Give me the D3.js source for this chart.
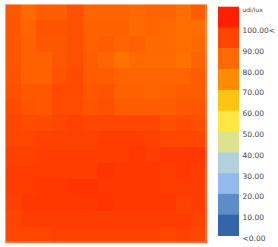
<!DOCTYPE html>
<html><head><meta charset="utf-8">
<script src="https://cdn.jsdelivr.net/npm/d3@7"></script>
<style>html,body{margin:0;padding:0;background:#fff;}svg{display:block;}</style>
</head><body>
<svg id="chart" width="278" height="247"></svg>
<script>
const columns = d3.range(13);
const rows = d3.range(15);
const gridValues = [
  [93.5,90.5,92.8,92.8,95.0,91.3,91.3,91.3,90.5,91.3,91.3,89.8,92.8],
  [93.5,91.3,94.3,94.3,95.0,92.0,92.0,92.0,90.5,91.3,90.5,89.8,89.8],
  [93.5,92.0,93.5,93.5,95.0,92.0,92.8,91.3,92.0,90.5,90.5,89.8,90.5],
  [93.5,92.0,92.0,93.5,95.0,92.8,91.3,89.0,90.5,90.5,90.5,89.0,91.3],
  [94.3,92.0,92.0,94.3,95.8,92.8,92.8,91.3,91.3,91.3,91.3,91.3,92.8],
  [95.0,93.5,93.5,95.8,95.8,93.5,94.3,92.0,92.0,91.3,92.0,92.8,92.8],
  [95.8,94.3,93.5,95.8,95.8,94.3,95.0,92.8,92.8,92.8,92.8,93.5,93.5],
  [96.5,95.8,95.8,96.5,97.3,96.5,96.5,96.5,96.5,96.5,95.0,95.8,95.0],
  [96.5,96.5,97.3,97.3,97.3,97.3,98.0,98.0,98.0,97.3,96.5,96.5,96.5],
  [97.3,97.3,98.0,98.0,98.0,98.0,98.0,98.0,98.8,98.0,98.8,98.8,98.8],
  [98.0,98.0,98.0,98.0,98.0,98.0,99.5,98.8,98.8,98.8,98.0,98.8,98.0],
  [98.0,98.0,98.8,98.8,99.5,99.5,98.8,98.8,98.8,98.8,98.0,98.0,98.0],
  [97.3,98.8,98.8,98.8,98.8,98.8,99.5,98.8,98.8,98.8,98.8,97.3,98.0],
  [96.5,98.0,98.0,98.0,98.0,98.0,98.0,98.0,98.0,98.0,98.0,98.0,97.3],
  [96.5,96.5,96.5,97.3,97.3,97.3,97.3,97.3,97.3,97.3,96.5,97.3,96.5]
];
const legendLabels = ["udi/lux","100.00<","90.00","80.00","70.00","60.00","50.00","40.00","30.00","20.00","10.00","<0.00"];
const legendColors = ["#ff2000","#ff4500","#ff6a00","#ff8c00","#ffc412","#ffe640","#dde28c","#b3d1dc","#92baec","#5d8cc9","#3465aa"];

const svg = d3.select("#chart");
const x = d3.scaleBand().domain(columns).range([5, 206.5]);
const y = d3.scaleBand().domain(rows).range([4, 242.5]);
const color = d3.scaleLinear().domain([89, 99.5]).range(["#ff7200", "#ff3400"]);

const cells = [];
rows.forEach(r => columns.forEach(c => cells.push({r, c, v: gridValues[r][c]})));

svg.append("g").selectAll("rect").data(cells).join("rect")
  .attr("x", d => x(d.c)).attr("y", d => y(d.r))
  .attr("width", x.bandwidth() + 0.6).attr("height", y.bandwidth() + 0.6)
  .attr("fill", d => color(d.v))
  .attr("shape-rendering", "crispEdges");

svg.append("rect")
  .attr("x", 5.5).attr("y", 4.5)
  .attr("width", 200.5).attr("height", 237.5)
  .attr("fill", "none").attr("stroke", "rgba(255,255,255,0.45)").attr("stroke-width", 1);

// legend
const ly = d3.scaleBand().domain(d3.range(legendColors.length)).range([6.7, 235.5]);
const lg = svg.append("g");
lg.selectAll("rect").data(legendColors).join("rect")
  .attr("x", 218).attr("y", (d, i) => ly(i))
  .attr("width", 21).attr("height", ly.bandwidth() + 0.5)
  .attr("fill", d => d);

lg.selectAll("text").data(legendLabels).join("text")
  .attr("x", 242.5)
  .attr("y", (d, i) => 6.7 + i * ly.step() + 3.5)
  .attr("dominant-baseline", "middle")
  .attr("font-family", "DejaVu Sans, Verdana, sans-serif")
  .attr("font-size", (d, i) => i === 0 ? 6 : 7.5)
  .attr("fill", "#444")
  .text(d => d);
</script>
</body></html>
